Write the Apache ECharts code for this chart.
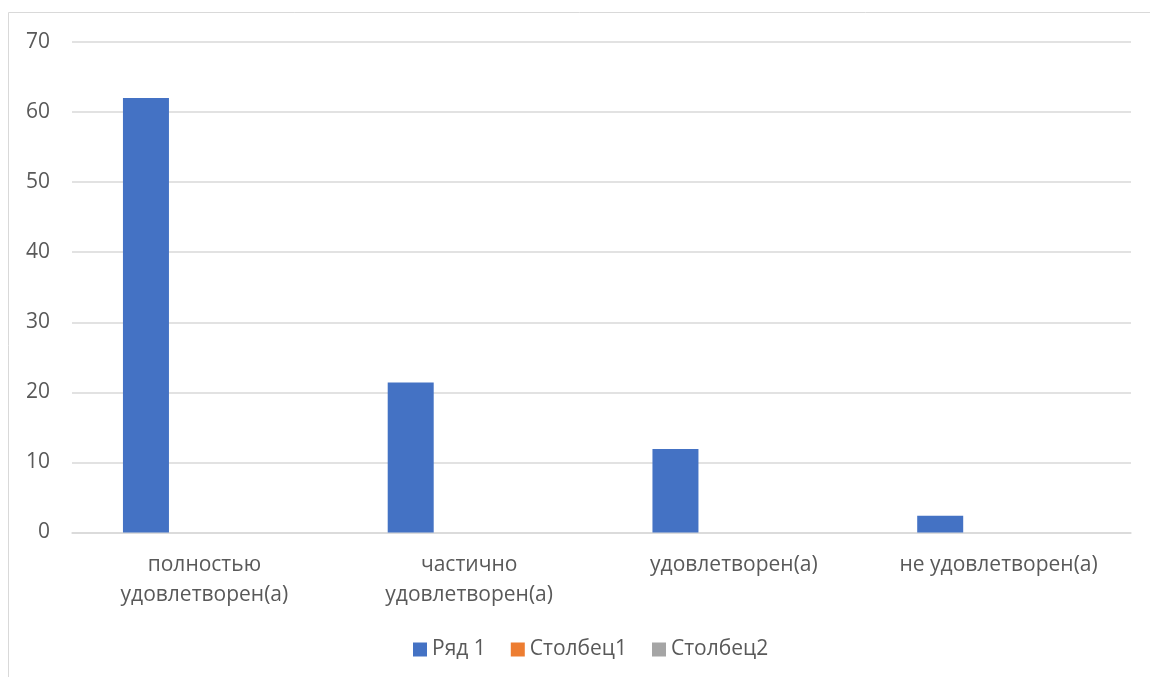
<!DOCTYPE html>
<html><head><meta charset="utf-8">
<script src="https://cdn.jsdelivr.net/npm/echarts@6/dist/echarts.min.js"></script>
<style>html,body{margin:0;padding:0;background:#fff}#c{width:1150px;height:677px}</style>
</head><body><div id="c"></div>
<script>
const categories = ['полностью\nудовлетворен(а)', 'частично\nудовлетворен(а)', 'удовлетворен(а)', 'не удовлетворен(а)'];
const seriesNames = ['Ряд 1', 'Столбец1', 'Столбец2'];
const row1 = [62, 21.4, 11.9, 2.4];
const col1 = [null, null, null, null];
const col2 = [null, null, null, null];
const yTicks = { min: 0, max: 70, interval: 10 };

const font = '"Open Sans", "Noto Sans", sans-serif';
const chart = echarts.init(document.getElementById('c'), null, { renderer: 'canvas' });
chart.setOption({
  animation: false,
  color: ['#4472c4', '#ed7d31', '#a5a5a5'],
  textStyle: { fontFamily: font },
  graphic: [{ type: 'rect', shape: { x: 8.5, y: 12.5, width: 1300, height: 800 }, style: { fill: 'none', stroke: '#d9d9d9', lineWidth: 1 }, silent: true }],
  grid: { left: 72, right: 19, top: 42, bottom: 144.5 },
  legend: {
    data: seriesNames, left: 408, top: 634, itemWidth: 14, itemHeight: 14, itemGap: 25,
    icon: 'rect', textStyle: { color: '#595959', fontSize: 21, fontFamily: font }
  },
  xAxis: {
    type: 'category', data: categories,
    axisLine: { show: true, lineStyle: { color: '#d9d9d9', width: 1.5 } },
    axisTick: { show: false },
    axisLabel: { color: '#595959', fontSize: 21, lineHeight: 30, margin: 18, fontFamily: font, interval: 0 }
  },
  yAxis: {
    type: 'value', min: yTicks.min, max: yTicks.max, interval: yTicks.interval,
    axisLine: { show: false }, axisTick: { show: false },
    axisLabel: { color: '#595959', fontSize: 21, margin: 22, fontFamily: font },
    splitLine: { lineStyle: { color: '#d9d9d9', width: 1.5 } }
  },
  series: [
    { name: seriesNames[0], type: 'bar', data: row1, barWidth: 46, barGap: '27%' },
    { name: seriesNames[1], type: 'bar', data: col1, barWidth: 46, barGap: '27%' },
    { name: seriesNames[2], type: 'bar', data: col2, barWidth: 46, barGap: '27%' }
  ]
});
</script></body></html>
